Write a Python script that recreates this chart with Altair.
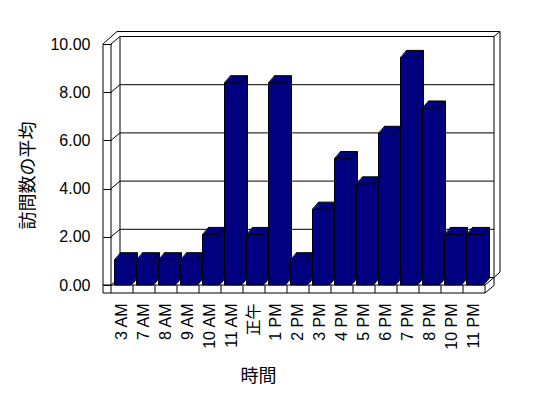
import altair as alt
import pandas as pd

# ---- data ----
hours = ["3 AM", "7 AM", "8 AM", "9 AM", "10 AM", "11 AM", "正午", "1 PM", "2 PM",
         "3 PM", "4 PM", "5 PM", "6 PM", "7 PM", "8 PM", "10 PM", "11 PM"]
visits = [1, 1, 1, 1, 2, 8, 2, 8, 1, 3, 5, 4, 6, 9, 7, 2, 2]
y_ticks = [0, 2, 4, 6, 8, 10]
y_title = "訪問数の平均"
x_title = "時間"

# ---- layout / style ----
W, H = 374, 241
STEP = W / len(hours)
BAR_W = 17
NAVY = "#000080"
FONT = "Liberation Sans, Noto Sans CJK JP"
CJK = "Noto Sans CJK JP"
DX, DY = 9, -7.5          # wall depth offset
BDX, BDY = 6, -7          # bar depth offset
FLOOR = 8                 # floor slab thickness
L0, L1, L2 = -STEP / 2 - 8, -STEP / 2, -STEP / 2 + DX
R0, R1, R2 = STEP / 2, STEP / 2 + DX, STEP / 2 + DX + 6

df = pd.DataFrame({"hour": hours, "visits": visits})
first, last = hours[0], hours[-1]
lo, hi = y_ticks[0], y_ticks[-1]

pad = (STEP - BAR_W) / STEP
xscale = alt.Scale(domain=hours, paddingInner=pad, paddingOuter=pad / 2)
axis_scale = alt.Scale(domain=[lo, hi], nice=False)
bar_scale = alt.Scale(domain=[0, 9.53], nice=False)

xaxis = alt.Axis(title=x_title, labelAngle=270, labelAlign="right", labelBaseline="middle",
                 labelPadding=18, ticks=False, domain=False, grid=False, labelOverlap=False,
                 labelFont=FONT, labelFontSize=16, labelColor="black",
                 titleFont=CJK, titleFontSize=18, titleFontWeight="normal", titleColor="black",
                 titleX=147, titleY=91, titleAlign="center", titleBaseline="middle")
yaxis = alt.Axis(orient="left", values=y_ticks, format=".2f", tickSize=8, tickColor="black",
                 tickWidth=1, domain=False, grid=False,
                 labelFont=FONT, labelFontSize=16, labelColor="black", labelPadding=13,
                 title=y_title, titleFont=CJK, titleFontSize=18, titleFontWeight="normal",
                 titleColor="black", titleAngle=270, titleX=-83, titleY=131,
                 titleAlign="center", titleBaseline="middle")


def X(field):
    return alt.X(f"{field}:N", scale=xscale, axis=xaxis, sort=hours)


def seg(a, ax, va, ay, b, bx, vb, by):
    d = pd.DataFrame({"a": [a], "b": [b], "va": [va], "vb": [vb]})
    return alt.Chart(d).mark_rule(color="black", strokeWidth=1, xOffset=ax, x2Offset=bx,
                                  yOffset=ay, y2Offset=by).encode(
        x=X("a"), x2=alt.X2("b"),
        y=alt.Y("va:Q", scale=axis_scale, axis=None), y2=alt.Y2("vb"))


# back wall gridlines (with the y axis)
gdf = pd.DataFrame({"v": y_ticks, "a": first, "b": last})
grid = alt.Chart(gdf).mark_rule(color="black", xOffset=L2, x2Offset=R1, yOffset=DY).encode(
    x=X("a"), x2=alt.X2("b"), y=alt.Y("v:Q", scale=axis_scale, axis=yaxis))
conn = alt.Chart(gdf).mark_rule(color="black", xOffset=L1, x2Offset=L2, yOffset=0, y2Offset=DY).encode(
    x=X("a"), x2=alt.X2("a"), y=alt.Y("v:Q", scale=axis_scale, axis=None), y2=alt.Y2("v"))

walls = [
    seg(first, L0, hi, 0, first, L0, lo, FLOOR),
    seg(first, L1, hi, 0, first, L1, lo, 0),
    seg(first, L2, hi, DY, first, L2, lo, DY),
    seg(first, L0, hi, 0, first, -5, hi, -12.5),
    seg(first, -5, hi, -12.5, last, R2, hi, -12.5),
    seg(last, R2, hi, -12.5, last, R1, hi, DY),
    seg(last, R2, hi, -12.5, last, R2, lo, -13),
    seg(last, R1, hi, DY, last, R1, lo, DY + FLOOR),
    seg(last, R2, lo, -13, last, R1, lo, DY),
    seg(last, R0, lo, 0, last, R1, lo, DY),
    seg(last, R0, lo, FLOOR, last, R1, lo, DY + FLOOR),
    seg(first, L0, lo, 0, last, R0, lo, 0),
    seg(first, L0, lo, FLOOR, last, R0, lo, FLOOR),
    seg(last, R0, lo, 0, last, R0, lo, FLOOR),
]
ddf = pd.DataFrame({"hour": hours, "z": lo})
dividers = alt.Chart(ddf).mark_rule(color="black", xOffset=L1, x2Offset=L1, yOffset=0, y2Offset=FLOOR).encode(
    x=X("hour"), x2=alt.X2("hour"), y=alt.Y("z:Q", scale=axis_scale, axis=None), y2=alt.Y2("z"))


def bars(k, n, stroke):
    kw = dict(color=NAVY, xOffset=1 + BDX * k / n, x2Offset=1 + BDX * k / n,
              yOffset=BDY * k / n, y2Offset=BDY * k / n)
    if stroke:
        kw.update(stroke="black", strokeWidth=1)
    else:
        kw.update(strokeWidth=0)
    return alt.Chart(df).mark_bar(**kw).encode(
        x=X("hour"), y=alt.Y("visits:Q", scale=bar_scale, axis=None))


N = 7
bar_layers = [bars(N, N, True)] + [bars(k, N, False) for k in range(N - 1, 0, -1)] + [bars(0, N, True)]

half = BAR_W / 2
edges = []
for xo, use_zero in [(1 - half, False), (1 + half, False), (1 + half, True)]:
    enc_y = alt.Y(datum=0, scale=bar_scale, axis=None) if use_zero else alt.Y("visits:Q", scale=bar_scale, axis=None)
    enc_y2 = alt.Y2(datum=0) if use_zero else alt.Y2("visits")
    edges.append(alt.Chart(df).mark_rule(color="black", strokeWidth=1, xOffset=xo, x2Offset=xo + BDX,
                                         yOffset=0, y2Offset=BDY).encode(
        x=X("hour"), x2=alt.X2("hour"), y=enc_y, y2=enc_y2))

chart = alt.layer(grid, conn, *walls, dividers, *bar_layers, *edges).properties(
    width=W, height=H,
    autosize=alt.AutoSizeParams(type="none"),
    padding={"left": 103, "top": 36, "right": 55, "bottom": 105},
    background="white",
).resolve_scale(y="independent").configure_view(stroke=None)

chart.save("out.html", embed_options={"renderer": "svg", "actions": False})
